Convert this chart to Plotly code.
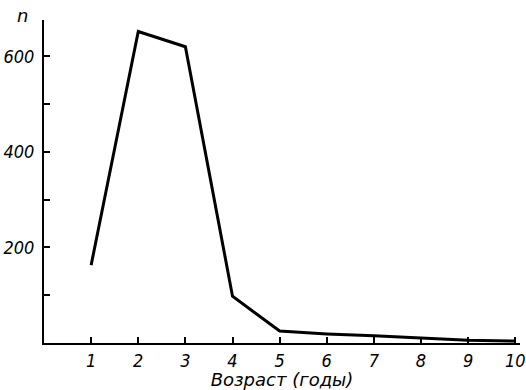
import plotly.graph_objects as go

ages = [1, 2, 3, 4, 5, 6, 7, 8, 9, 10]
counts = [163, 652, 620, 98, 25, 19, 15, 10, 6, 4]
x_tick_vals = [1, 2, 3, 4, 5, 6, 7, 8, 9, 10]
x_tick_text = ["1", "2", "3", "4", "5", "6", "7", "8", "9", "10"]
y_tick_vals = [100, 200, 300, 400, 500, 600]
y_tick_text = ["", "200", "", "400", "", "600"]

FONT = "DejaVu Sans Condensed"
TITLE_FONT = "DejaVu Sans"

fig = go.Figure()
fig.add_trace(go.Scatter(x=ages, y=counts, mode="lines",
                         line=dict(color="black", width=3), showlegend=False,
                         hoverinfo="skip"))

fig.update_layout(
    width=526, height=390,
    margin=dict(l=44, r=6, t=20, b=47),
    paper_bgcolor="white", plot_bgcolor="white",
    font=dict(family=FONT, size=18, color="black", style="italic"),
    xaxis=dict(range=[0, 10.1], tickvals=x_tick_vals, ticktext=x_tick_text,
               ticks="inside", ticklen=6, tickwidth=1.5, tickcolor="black",
               showline=True, linecolor="black", linewidth=2,
               showgrid=False, zeroline=False, automargin=False,
               title=dict(text="Возраст (годы)", standoff=0,
                          font=dict(family=TITLE_FONT, size=18, style="italic"))),
    yaxis=dict(range=[0, 676], tickvals=y_tick_vals, ticktext=y_tick_text,
               ticks="inside", ticklen=6, tickwidth=1.5, tickcolor="black",
               ticklabelstandoff=4,
               showline=True, linecolor="black", linewidth=2,
               showgrid=False, zeroline=False, automargin=False),
    annotations=[dict(text="n", xref="paper", yref="paper", x=-0.03, y=1.0,
                      xanchor="right", yanchor="middle", yshift=5, showarrow=False,
                      font=dict(family=TITLE_FONT, size=18, style="italic"))],
)

fig.write_html("out.html", config={"displayModeBar": False})
with open("out.html", "r", encoding="utf-8") as f:
    html = f.read()
html = html.replace("<head>", "<head><style>html,body{margin:0;padding:0;}</style>", 1)
with open("out.html", "w", encoding="utf-8") as f:
    f.write(html)
